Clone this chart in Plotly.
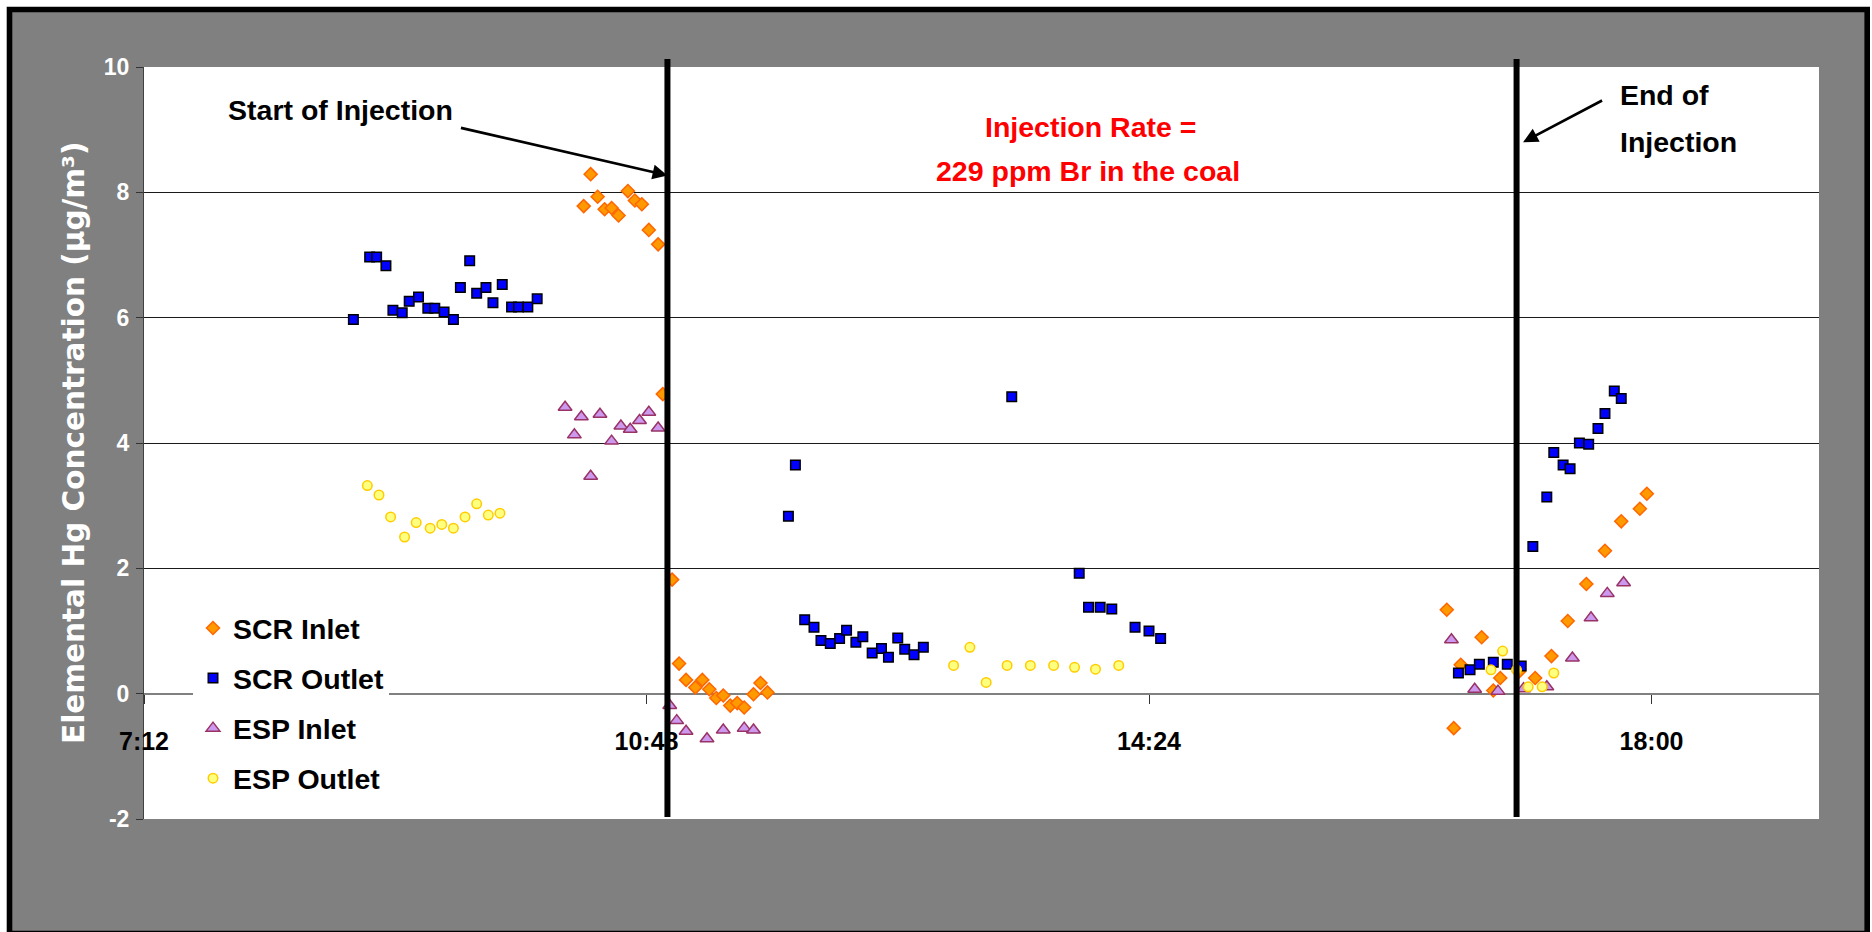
import plotly.graph_objects as go

# Sampling day (only the clock time is shown on the axis)
DAY = "2006-01-01"

# --- Elemental Hg measurements (µg/m3) by sampling location ---
scr_inlet_time = ["10:21", "10:24", "10:27", "10:30", "10:33", "10:36", "10:40", "10:43",
                  "10:46", "10:49", "10:53", "10:55", "10:59", "11:02", "11:05", "11:09",
                  "11:12", "11:15", "11:18", "11:21", "11:24", "11:27", "11:30", "11:34",
                  "11:37", "11:40",
                  "16:32", "16:35", "16:38", "16:47", "16:52", "16:55", "17:03", "17:10",
                  "17:17", "17:24", "17:32", "17:40", "17:47", "17:55", "17:58"]
scr_inlet_hg = [7.78, 8.29, 7.93, 7.73, 7.75, 7.63, 8.02, 7.87,
                7.81, 7.40, 7.17, 4.78, 1.82, 0.48, 0.22, 0.10,
                0.22, 0.07, -0.07, -0.03, -0.19, -0.15, -0.22, -0.01,
                0.17, 0.02,
                1.34, -0.55, 0.46, 0.90, 0.05, 0.25, 0.35, 0.25,
                0.60, 1.16, 1.75, 2.28, 2.75, 2.95, 3.19]

scr_outlet_time = ["08:42", "08:49", "08:52", "08:56", "08:59", "09:03", "09:06", "09:10",
                   "09:14", "09:17", "09:21", "09:25", "09:28", "09:32", "09:35", "09:39",
                   "09:42", "09:46", "09:50", "09:53", "09:57", "10:01",
                   "11:49", "11:52", "11:56", "12:00", "12:03", "12:07", "12:11", "12:14",
                   "12:18", "12:21", "12:25", "12:29", "12:32", "12:36", "12:39", "12:43",
                   "12:47", "13:25",
                   "13:54", "13:58", "14:03", "14:08", "14:18", "14:24", "14:29",
                   "16:37", "16:42", "16:46", "16:52", "16:58", "17:04", "17:09", "17:15",
                   "17:18", "17:22", "17:25", "17:29", "17:33", "17:37", "17:40", "17:44",
                   "17:47"]
scr_outlet_hg = [5.97, 6.97, 6.97, 6.83, 6.12, 6.08, 6.26, 6.33,
                 6.15, 6.15, 6.09, 5.97, 6.48, 6.91, 6.39, 6.48,
                 6.24, 6.53, 6.17, 6.17, 6.17, 6.30,
                 2.83, 3.65, 1.18, 1.06, 0.85, 0.80, 0.88, 1.01,
                 0.82, 0.91, 0.65, 0.72, 0.58, 0.89, 0.71, 0.62,
                 0.74, 4.74,
                 1.92, 1.38, 1.38, 1.35, 1.06, 1.00, 0.88,
                 0.33, 0.38, 0.47, 0.50, 0.47, 0.44, 2.35, 3.14,
                 3.85, 3.65, 3.59, 4.00, 3.98, 4.23, 4.47, 4.83,
                 4.71]

esp_inlet_time = ["10:13", "10:17", "10:20", "10:24", "10:28", "10:33", "10:37", "10:41",
                  "10:45", "10:49", "10:53",
                  "10:58", "11:01", "11:05", "11:14", "11:21", "11:30", "11:34",
                  "16:34", "16:44", "16:54", "17:05", "17:15", "17:26", "17:34", "17:41",
                  "17:48"]
esp_inlet_hg = [4.57, 4.13, 4.42, 3.47, 4.46, 4.03, 4.27, 4.22,
                4.36, 4.49, 4.24,
                -0.19, -0.43, -0.60, -0.72, -0.58, -0.55, -0.58,
                0.86, 0.07, 0.04, 0.08, 0.11, 0.57, 1.21, 1.60,
                1.77]

esp_outlet_time = ["08:48", "08:53", "08:58", "09:04", "09:09", "09:15", "09:20", "09:25",
                   "09:30", "09:35", "09:40", "09:45",
                   "13:00", "13:07", "13:14", "13:23", "13:33", "13:43", "13:52", "14:01",
                   "14:11",
                   "16:51", "16:56", "17:02", "17:07", "17:13", "17:18"]
esp_outlet_hg = [3.32, 3.17, 2.82, 2.50, 2.73, 2.64, 2.70, 2.64,
                 2.82, 3.03, 2.85, 2.88,
                 0.45, 0.74, 0.18, 0.45, 0.45, 0.45, 0.42, 0.39,
                 0.45,
                 0.38, 0.68, 0.38, 0.11, 0.11, 0.33]

# Bromine injection period
INJECTION_START = "10:57"
INJECTION_END = "17:02"

# Axis settings: ticks every 3.6 h starting 7:12
X_MIN, X_MAX = "07:12", "19:12"
Y_TICKS = [-2, 0, 2, 4, 6, 8, 10]
Y_TICK_TEXT = ["-2", "0", "2", "4", "6", "8", "10"]


def stamp(times):
    return [f"{DAY} {t}" for t in times]


SANS = "Liberation Sans, Arial, sans-serif"
TITLE_FONT = "DejaVu Sans, Verdana, sans-serif"
GRAY = "#808080"

series = [
    ("SCR Inlet", scr_inlet_time, scr_inlet_hg,
     dict(symbol="diamond", size=10, color="#FF9900", line=dict(color="#FF6600", width=1.5))),
    ("SCR Outlet", scr_outlet_time, scr_outlet_hg,
     dict(symbol="square", size=9.5, color="#0000FF", line=dict(color="#000000", width=1.5))),
    ("ESP Inlet", esp_inlet_time, esp_inlet_hg,
     dict(symbol="triangle-up", size=12, color="#CC99EE", line=dict(color="#993366", width=1.5))),
    ("ESP Outlet", esp_outlet_time, esp_outlet_hg,
     dict(symbol="circle", size=9.5, color="#FFFF80", line=dict(color="#FFCC00", width=1.5))),
]

fig = go.Figure()
for i, (name, t, v, marker) in enumerate(series):
    fig.add_trace(go.Scatter(
        x=stamp(t), y=v, mode="markers", name=name, marker=marker,
        legendgroup=f"g{i}", cliponaxis=False,
    ))

W, H = 1872, 932
L, R, T, B = 144, 53, 67, 113
PW, PH = W - L - R, H - T - B


def px_x(px):
    """Horizontal pixel position -> paper fraction."""
    return (px - L) / PW


def px_y(py):
    """Vertical pixel position -> paper fraction."""
    return (H - B - py) / PH


shapes = [
    # grey panel with black frame, then the white plotting area on top of it
    dict(type="rect", xref="paper", yref="paper", layer="below",
         x0=px_x(9.5), x1=px_x(1867.2), y0=px_y(933.5), y1=px_y(9.5),
         fillcolor=GRAY, line=dict(color="black", width=5.6)),
    dict(type="rect", xref="paper", yref="paper", layer="below",
         x0=0, x1=1, y0=0, y1=1, fillcolor="white", line=dict(width=0)),
]
for t in (INJECTION_START, INJECTION_END):
    shapes.append(dict(type="line", xref="x", yref="paper",
                       x0=f"{DAY} {t}", x1=f"{DAY} {t}",
                       y0=px_y(817), y1=px_y(59),
                       line=dict(color="black", width=6), layer="above"))

FS = 28.5
label_font = dict(family=SANS, size=FS, color="black", weight="bold")
red_font = dict(family=SANS, size=FS, color="#FF0000", weight="bold")
arrow_style = dict(showarrow=True, arrowhead=2, arrowsize=1.1, arrowwidth=2.7,
                   arrowcolor="black")

annotations = [
    dict(text="Elemental Hg Concentration (µg/m³)", textangle=-90,
         xref="paper", yref="paper", x=px_x(74), y=px_y(443),
         xanchor="center", yanchor="middle", showarrow=False,
         font=dict(family=TITLE_FONT, size=29.5, color="white", weight="bold")),
    # label with its arrow pointing at the start line
    dict(text="Start of Injection", x=f"{DAY} {INJECTION_START}", y=8.27,
         xref="x", yref="y", ax=-206.5, ay=-47.5,
         xanchor="right", yanchor="bottom", width=239, height=34,
         align="center", valign="middle", borderpad=0,
         font=label_font, **arrow_style),
    dict(text="Injection Rate =", xref="paper", yref="paper",
         x=px_x(1090), y=px_y(127.5), xanchor="center", yanchor="middle",
         showarrow=False, font=red_font),
    dict(text="229 ppm Br in the coal", xref="paper", yref="paper",
         x=px_x(1088), y=px_y(171), xanchor="center", yanchor="middle",
         showarrow=False, font=red_font),
    # label with its arrow pointing at the end line
    dict(text="End of", x=f"{DAY} {INJECTION_END}", y=8.80, xref="x", yref="y",
         xshift=6.5, ax=79, ay=-41.7,
         xanchor="left", yanchor="middle", width=123, height=42,
         align="center", valign="top", borderpad=0, font=label_font, **arrow_style),
    dict(text="Injection", xref="paper", yref="paper",
         x=px_x(1618), y=px_y(141.5), xanchor="left", yanchor="middle",
         showarrow=False, font=label_font),
]

fig.update_layout(
    width=W, height=H,
    margin=dict(l=L, r=R, t=T, b=B, pad=0),
    paper_bgcolor="white",
    plot_bgcolor="white",
    showlegend=True,
    legend=dict(x=px_x(193), y=px_y(603), xanchor="left", yanchor="top",
                bgcolor="white", borderwidth=0, font=label_font,
                tracegroupgap=10, itemsizing="trace"),
    shapes=shapes,
    annotations=annotations,
    xaxis=dict(
        type="date", range=[f"{DAY} {X_MIN}", f"{DAY} {X_MAX}"],
        tick0=f"{DAY} {X_MIN}", dtick=3.6 * 3600 * 1000, tickformat="%-H:%M",
        showgrid=False, zeroline=False,
        showline=True, linecolor=GRAY, linewidth=2,
        anchor="free", position=(0 - Y_TICKS[0]) / (Y_TICKS[-1] - Y_TICKS[0]),
        ticks="outside", ticklen=9, tickwidth=1, tickcolor="#333333",
        tickfont=dict(family=SANS, size=25, color="black", weight="bold"),
        ticklabelstandoff=16, layer="below traces",
    ),
    yaxis=dict(
        range=[Y_TICKS[0], Y_TICKS[-1]], tickmode="array",
        tickvals=Y_TICKS, ticktext=Y_TICK_TEXT,
        showgrid=True, gridcolor="#1a1a1a", gridwidth=1,
        zeroline=False, showline=True, linecolor="#404040", linewidth=1,
        ticks="outside", ticklen=7, tickwidth=1, tickcolor="#333333",
        tickfont=dict(family=SANS, size=23, color="white", weight="bold"),
        ticklabelstandoff=2, layer="below traces",
    ),
)

fig.write_html("out.html")
